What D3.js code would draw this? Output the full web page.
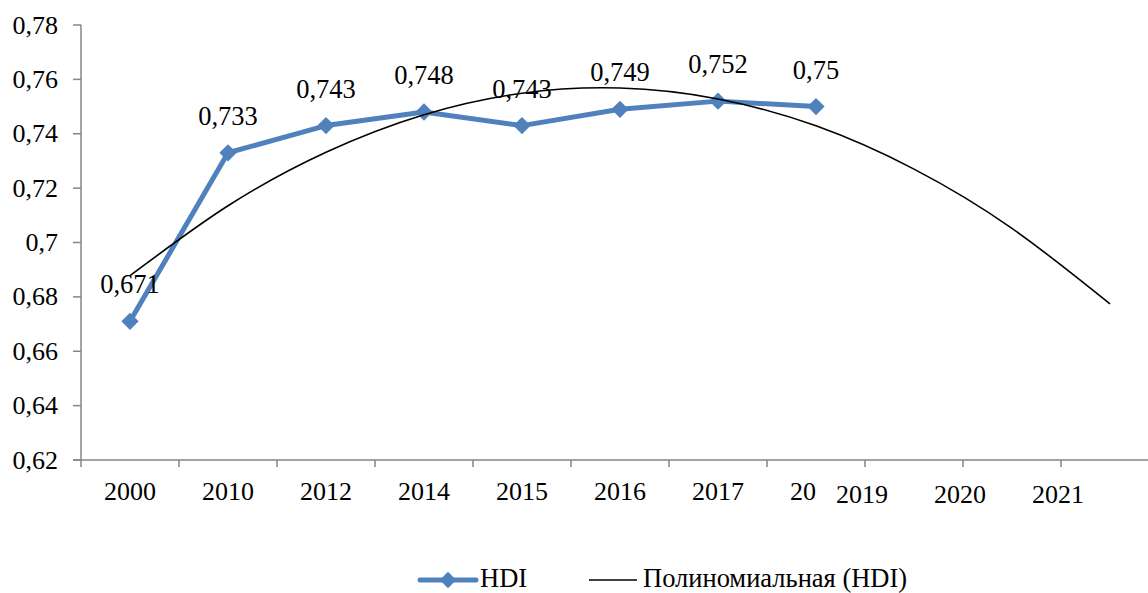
<!DOCTYPE html>
<html><head><meta charset="utf-8">
<script src="https://cdn.jsdelivr.net/npm/d3@7"></script>
<style>body{margin:0;background:#fff}svg{display:block}</style>
</head><body><svg id="c" width="1148" height="593" font-family="'Liberation Serif', 'Times New Roman', Times, serif"></svg>
<script>
const categories = ["2000","2010","2012","2014","2015","2016","2017","2018","2019","2020","2021"];
const tickLabels = ["2000","2010","2012","2014","2015","2016","2017","20","2019","2020","2021"];
const hdiValues = [0.671,0.733,0.743,0.748,0.743,0.749,0.752,0.75];
const hdiLabels = ["0,671","0,733","0,743","0,748","0,743","0,749","0,752","0,75"];
const trendValues = [0.6878,0.7135,0.7332,0.7470,0.7549,0.7568,0.7528,0.7429,0.7270,0.7052,0.6774];
const yTicks = [0.62,0.64,0.66,0.68,0.70,0.72,0.74,0.76,0.78];
const yTickLabels = ["0,62","0,64","0,66","0,68","0,7","0,72","0,74","0,76","0,78"];
const seriesNames = ["HDI","Полиномиальная (HDI)"];

const FONT = "'Liberation Serif', 'Times New Roman', Times, serif";
const svg = d3.select("#c");
const blue = "#4F81BD", axisCol = "#868686";
const x = d3.scaleBand().domain(categories).range([81, 1159]);
const y = d3.scaleLinear().domain([0.62, 0.78]).range([460, 25]);
const cx = c => x(c) + x.bandwidth()/2;
const txt = (size) => svg.append("text").attr("font-family", FONT).attr("font-size", size).attr("fill","#000");

// y axis
svg.append("line").attr("x1",81).attr("x2",81).attr("y1",y(0.78)).attr("y2",y(0.62)).attr("stroke",axisCol).attr("stroke-width",1.5);
yTicks.forEach((v,i)=>{
  svg.append("line").attr("x1",73).attr("x2",81).attr("y1",y(v)).attr("y2",y(v)).attr("stroke",axisCol).attr("stroke-width",1.5);
  txt(26).attr("x",58).attr("y",y(v)).attr("dy","0.33em").attr("text-anchor","end").text(yTickLabels[i]);
});
// x axis
svg.append("line").attr("x1",73).attr("x2",1159).attr("y1",y(0.62)).attr("y2",y(0.62)).attr("stroke",axisCol).attr("stroke-width",1.5);
categories.forEach((c,i)=>{
  svg.append("line").attr("x1",x(c)).attr("x2",x(c)).attr("y1",460).attr("y2",467).attr("stroke",axisCol).attr("stroke-width",1.5);
});
categories.forEach((c,i)=>{
  const t = txt(26).text(tickLabels[i]);
  if (tickLabels[i] !== c) {
    t.attr("x", cx(c) - 26).attr("y", 500).attr("text-anchor","start");
  } else if (i >= 8) {
    t.attr("x", x(c) - 3).attr("y", 503).attr("text-anchor","middle");
  } else {
    t.attr("x", cx(c)).attr("y", 500).attr("text-anchor","middle");
  }
});

// HDI line
const hdiPts = hdiValues.map((v,i)=>[cx(categories[i]), y(v)]);
svg.append("path").attr("d", d3.line()(hdiPts)).attr("fill","none").attr("stroke",blue).attr("stroke-width",5).attr("stroke-linejoin","round");
const diamond = d3.symbol().type(d3.symbolDiamond2).size(190);
hdiPts.forEach(p=>{
  svg.append("path").attr("d", diamond()).attr("transform",`translate(${p[0]},${p[1]})`).attr("fill",blue);
});

// trend
const trendPts = trendValues.map((v,i)=>[cx(categories[i]), y(v)]);
svg.append("path").attr("d", d3.line().curve(d3.curveNatural)(trendPts)).attr("fill","none").attr("stroke","#000").attr("stroke-width",1.6);

// data labels
hdiPts.forEach((p,i)=>{
  txt(26.5).attr("x",p[0]).attr("y",p[1]-28).attr("text-anchor","middle").text(hdiLabels[i]);
});

// legend
svg.append("line").attr("x1",420).attr("x2",476).attr("y1",580).attr("y2",580).attr("stroke",blue).attr("stroke-width",5).attr("stroke-linecap","round");
svg.append("path").attr("d", d3.symbol().type(d3.symbolDiamond2).size(170)()).attr("transform","translate(448,580)").attr("fill",blue);
txt(26.5).attr("x",480).attr("y",587).text(seriesNames[0]);
svg.append("line").attr("x1",589).attr("x2",637).attr("y1",580).attr("y2",580).attr("stroke","#000").attr("stroke-width",1.6);
txt(26.5).attr("x",643).attr("y",587).text(seriesNames[1]);
</script></body></html>
